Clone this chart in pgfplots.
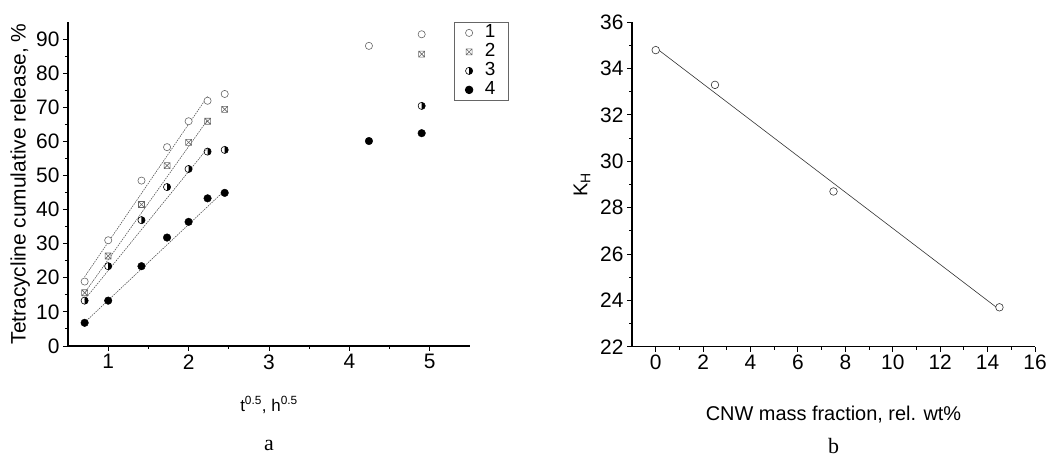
\documentclass[border=0pt]{standalone}
\usepackage{fontspec}
\setmainfont{Liberation Sans}
\newfontfamily\panelserif{Liberation Serif}
\usepackage{pgfplots}
\pgfplotsset{compat=1.18}

% square with a cross inside
\pgfdeclareplotmark{boxcross}{%
  \pgfpathrectangle{\pgfpoint{-\pgfplotmarksize}{-\pgfplotmarksize}}{\pgfpoint{2\pgfplotmarksize}{2\pgfplotmarksize}}%
  \pgfpathmoveto{\pgfpoint{-\pgfplotmarksize}{-\pgfplotmarksize}}%
  \pgfpathlineto{\pgfpoint{\pgfplotmarksize}{\pgfplotmarksize}}%
  \pgfpathmoveto{\pgfpoint{-\pgfplotmarksize}{\pgfplotmarksize}}%
  \pgfpathlineto{\pgfpoint{\pgfplotmarksize}{-\pgfplotmarksize}}%
  \pgfusepathqstroke}
% circle with the right half filled
\pgfdeclareplotmark{halfdisc}{%
  \pgfpathcircle{\pgfpointorigin}{\pgfplotmarksize}%
  \pgfusepathqstroke
  \pgfpathmoveto{\pgfpoint{0pt}{\pgfplotmarksize}}%
  \pgfpatharc{90}{-90}{\pgfplotmarksize}%
  \pgfpathclose
  \pgfusepathqfill}

\pgfplotsset{
  panel/.style={
    scale only axis,
    axis x line=bottom, axis y line=left,
    axis line style={-, line width=1.2pt},
    tick align=outside,
    major tick length=5bp, minor tick length=3bp,
    tick style={line width=1pt, black},
    tick label style={font=\fontsize{21}{23}\selectfont},
    /pgf/number format/assume math mode=true,
    minor x tick num=1, minor y tick num=1,
  },
  fit/.style={black!70, line width=0.55pt, dash pattern=on 1.5pt off 1pt, forget plot},
}

\begin{document}
\begin{tikzpicture}
\useasboundingbox (0,0) rectangle (1047bp,462bp);

% (a) release curves
\begin{axis}[panel,
  at={(68bp,116bp)}, anchor=south west,
  width=402bp, height=324bp,
  xmin=0.5, xmax=5.5, ymin=0, ymax=95,
  xtick={1,2,3,4,5}, ytick={0,10,...,90},
  xlabel={t\textsuperscript{0.5}, h\textsuperscript{0.5}},
  ylabel={Tetracycline cumulative release, \%},
  xlabel style={at={(axis description cs:0.5,-0.182)}, anchor=center,
    font=\fontsize{17}{20}\selectfont},
  ylabel style={at={(axis description cs:-0.119,0.5)}, anchor=center,
    font=\fontsize{21}{24}\selectfont},
  legend style={at={(axis description cs:0.960,1)}, anchor=north west,
    draw=black!60, line width=0.8pt, font=\fontsize{19}{19}\selectfont,
    row sep=2bp, column sep=10bp, inner xsep=11bp, inner ysep=2bp,
    nodes={text height=12bp, text depth=3bp, inner ysep=1bp}},
  legend cell align=left,
  clip=false,
]
\addplot[fit] coordinates {(0.707,20.3) (2.236,73.2)};
\addplot[fit] coordinates {(0.707,15.6) (2.236,66.3)};
\addplot[fit] coordinates {(0.707,13.6) (2.236,58.0)};
\addplot[fit] coordinates {(0.707,6.9) (2.449,45.6)};

\addplot[only marks, mark=*, mark size=3.6bp,
  mark options={draw=black!60, fill=white, line width=0.6pt}]
  coordinates {(0.707,18.9) (1,31.0) (1.414,48.5) (1.732,58.3) (2,65.9)
               (2.236,71.9) (2.449,73.9) (4.243,88.0) (4.899,91.4)};
\addlegendentry{1}
\addplot[only marks, mark=boxcross, mark size=3bp,
  mark options={draw=black!60, fill=white, line width=0.6pt}]
  coordinates {(0.707,15.6) (1,26.4) (1.414,41.5) (1.732,52.9) (2,59.7)
               (2.236,65.9) (2.449,69.4) (4.899,85.6)};
\addlegendentry{2}
\addplot[only marks, mark=halfdisc, mark size=3.6bp,
  mark options={draw=black, fill=black, line width=0.6pt}]
  coordinates {(0.707,13.3) (1,23.4) (1.414,36.9) (1.732,46.6) (2,51.9)
               (2.236,57.0) (2.449,57.5) (4.899,70.4)};
\addlegendentry{3}
\addplot[only marks, mark=*, mark size=3.8bp,
  mark options={draw=black, fill=black}]
  coordinates {(0.707,6.8) (1,13.3) (1.414,23.4) (1.732,31.8) (2,36.4)
               (2.236,43.3) (2.449,44.9) (4.243,60.1) (4.899,62.4)};
\addlegendentry{4}

\node[font=\panelserif\fontsize{22}{22}\selectfont, anchor=center]
  at (axis description cs:0.5,-0.306) {a};
\end{axis}

% (b) release constant vs. CNW content
\begin{axis}[panel,
  at={(632bp,115.3bp)}, anchor=south west,
  width=403bp, height=324.4bp,
  xmin=-1, xmax=16, ymin=22, ymax=36,
  xtick={0,2,...,16}, ytick={22,24,...,36},
  xlabel={CNW mass fraction, rel. wt\%},
  ylabel={K\textsubscript{H}},
  xlabel style={at={(axis description cs:0.5,-0.21)}, anchor=center,
    font=\fontsize{20}{22}\selectfont},
  ylabel style={at={(axis description cs:-0.124,0.5)}, anchor=center,
    font=\fontsize{20}{22}\selectfont},
  clip=false,
]
\addplot[black!80, line width=0.6pt, forget plot]
  coordinates {(0,34.9) (14.5,23.6)};
\addplot[only marks, mark=*, mark size=3.8bp,
  mark options={draw=black!80, fill=white, line width=0.6pt}]
  coordinates {(0,34.8) (2.5,33.3) (7.5,28.7) (14.5,23.7)};

\node[font=\panelserif\fontsize{22}{22}\selectfont, anchor=center]
  at (axis description cs:0.5,-0.306) {b};
\end{axis}
\end{tikzpicture}
\end{document}
